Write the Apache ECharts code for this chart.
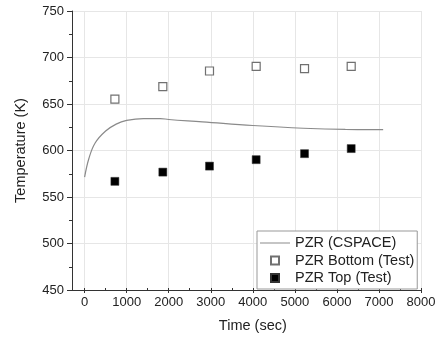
<!DOCTYPE html>
<html>
<head>
<meta charset="utf-8">
<style>
  html, body { margin: 0; padding: 0; background: #fff; }
  #chart { width: 443px; height: 338px; }
</style>
<script src="https://cdn.jsdelivr.net/npm/echarts@6/dist/echarts.min.js"></script>
</head>
<body>
<div id="chart"></div>
<script>
// CSPACE curve
const cspaceTime = [0, 100, 250, 500, 750, 1000, 1400, 1800, 2000, 2800, 4000, 5200, 6200, 7100];
const cspaceTemp = [570, 590, 607, 620, 627.5, 631.5, 633.5, 633.5, 632.5, 630, 626, 623, 621.7, 621.5];

// test points
const testTime = [720, 1860, 2970, 4080, 5230, 6340];
const bottomTemp = [654.5, 668, 685, 690, 687.5, 690];
const topTemp = [565.5, 575.5, 582, 589, 595.5, 601];

const font = '"Liberation Sans", Arial, sans-serif';
const textColor = '#222';
const axisColor = '#333';
const gridColor = '#e6e6e6';
const curveColor = '#8a8a8a';

// outer frame starts at -300 s, ticks/grid start at 0
const frameMin = -300;
const xMax = 8000;
const plotLeft = 72;
const plotWidth = 349;
const innerLeft = plotLeft + plotWidth * (0 - frameMin) / (xMax - frameMin);

const zip = (xs, ys) => xs.map((x, i) => [x, ys[i]]);
const squareIcon = 'path://M0,0 L10,0 L10,10 L0,10 Z';
const lineIcon = 'path://M0,0 L30,0 L30,1 L0,1 Z';

const chart = echarts.init(document.getElementById('chart'));

chart.setOption({
  animation: false,
  backgroundColor: '#fff',
  textStyle: { fontFamily: font },
  grid: [
    { left: plotLeft, top: 11, width: plotWidth, height: 279 },
    { left: innerLeft, top: 11, width: plotLeft + plotWidth - innerLeft, height: 279 }
  ],
  legend: {
    orient: 'vertical',
    left: 257,
    top: 231,
    padding: [4, 3, 3, 3],
    itemWidth: 30,
    itemHeight: 8,
    itemGap: 1.5,
    borderColor: '#999',
    borderWidth: 1,
    backgroundColor: '#fff',
    textStyle: { fontFamily: font, fontSize: 14.5, color: textColor, lineHeight: 16 },
    data: [
      { name: 'PZR (CSPACE)', icon: lineIcon },
      { name: 'PZR Bottom (Test)', icon: squareIcon },
      { name: 'PZR Top (Test)', icon: squareIcon }
    ]
  },
  xAxis: [
    {
      gridIndex: 0,
      type: 'value',
      min: frameMin,
      max: xMax,
      axisLine: { show: true, onZero: false, lineStyle: { color: axisColor, width: 1 } },
      axisTick: { show: false },
      axisLabel: { show: false },
      splitLine: { show: false }
    },
    {
      gridIndex: 1,
      type: 'value',
      min: 0,
      max: xMax,
      interval: 1000,
      name: 'Time (sec)',
      nameLocation: 'middle',
      nameGap: 30,
      nameTextStyle: { fontFamily: font, fontSize: 14.5, color: textColor },
      axisLine: { show: false, onZero: false },
      axisTick: { show: true, length: 5, lineStyle: { color: axisColor } },
      minorTick: { show: true, splitNumber: 2, length: 3, lineStyle: { color: axisColor } },
      axisLabel: { margin: 8, fontFamily: font, fontSize: 13, color: textColor, formatter: v => String(v) },
      splitLine: { show: true, lineStyle: { color: gridColor, width: 1 } }
    }
  ],
  yAxis: [
    {
      gridIndex: 0,
      type: 'value',
      min: 450,
      max: 750,
      interval: 50,
      name: 'Temperature (K)',
      nameLocation: 'middle',
      nameGap: 44,
      nameTextStyle: { fontFamily: font, fontSize: 14.5, color: textColor },
      axisLine: { show: true, onZero: false, lineStyle: { color: axisColor, width: 1 } },
      axisTick: { show: true, length: 5, lineStyle: { color: axisColor } },
      minorTick: { show: true, splitNumber: 2, length: 3, lineStyle: { color: axisColor } },
      axisLabel: { margin: 8, fontFamily: font, fontSize: 13, color: textColor },
      splitLine: { show: true, lineStyle: { color: gridColor, width: 1 } }
    },
    {
      gridIndex: 1,
      type: 'value',
      min: 450,
      max: 750,
      show: false
    }
  ],
  series: [
    {
      name: 'PZR (CSPACE)',
      type: 'line',
      xAxisIndex: 1,
      yAxisIndex: 1,
      data: zip(cspaceTime, cspaceTemp),
      smooth: 0.4,
      symbol: 'none',
      lineStyle: { color: curveColor, width: 1.2 },
      itemStyle: { color: curveColor }
    },
    {
      name: 'PZR Bottom (Test)',
      type: 'scatter',
      xAxisIndex: 1,
      yAxisIndex: 1,
      data: zip(testTime, bottomTemp),
      symbol: 'rect',
      symbolSize: 8,
      itemStyle: { color: '#fff', borderColor: '#707070', borderWidth: 1.2, opacity: 1 }
    },
    {
      name: 'PZR Top (Test)',
      type: 'scatter',
      xAxisIndex: 1,
      yAxisIndex: 1,
      data: zip(testTime, topTemp),
      symbol: 'rect',
      symbolSize: 8,
      itemStyle: { color: '#000', borderColor: '#333', borderWidth: 0.5, opacity: 1 }
    }
  ]
});
</script>
</body>
</html>
